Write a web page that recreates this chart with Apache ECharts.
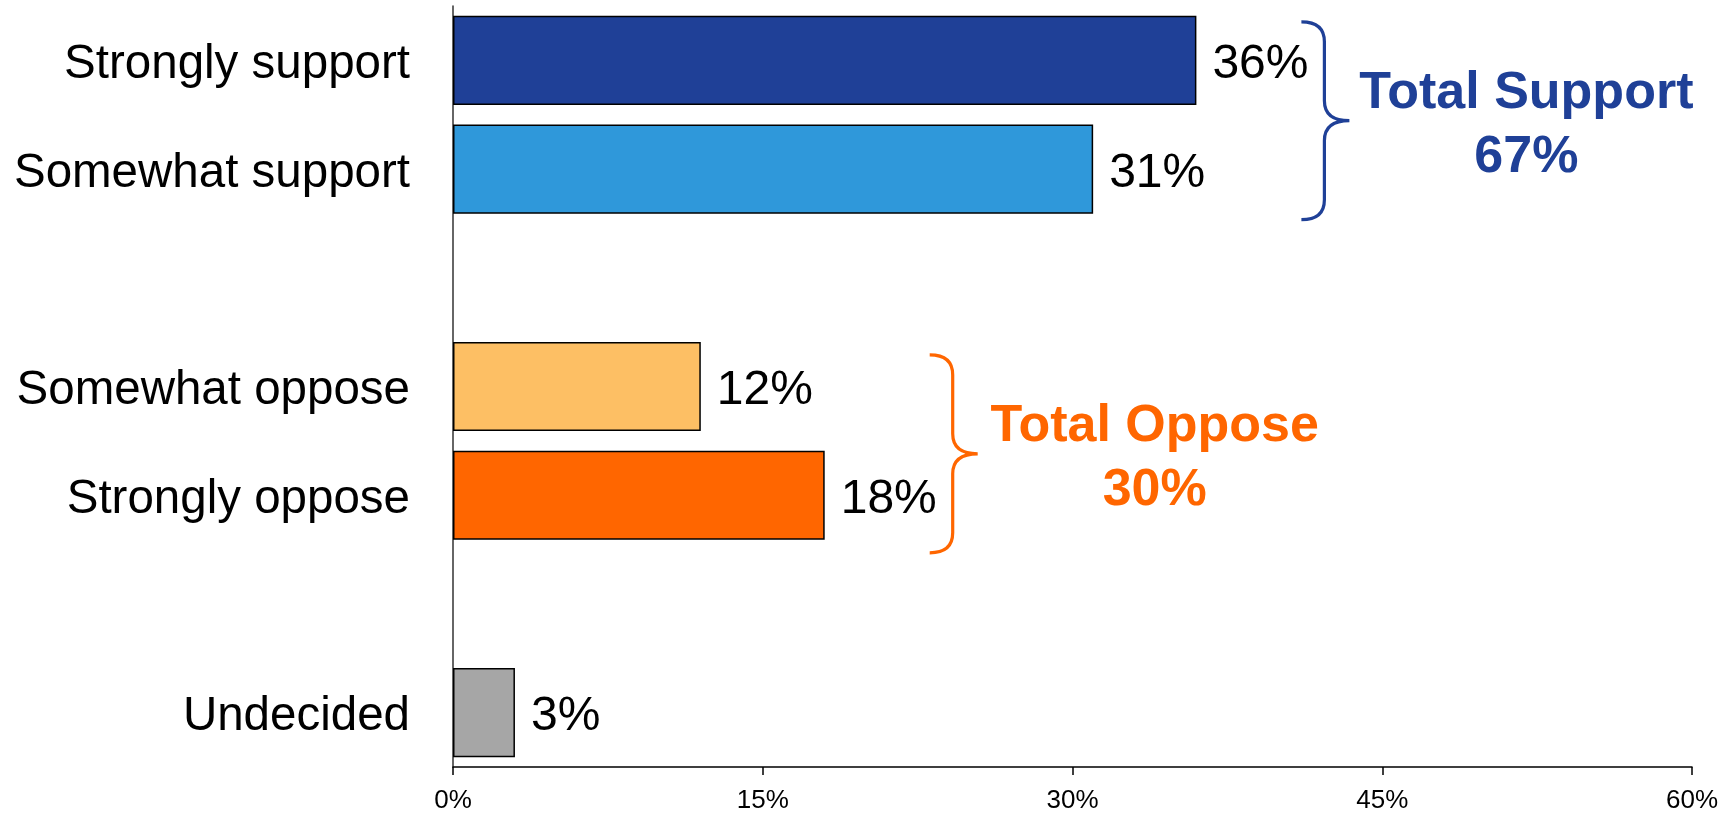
<!DOCTYPE html>
<html>
<head>
<meta charset="utf-8">
<script src="https://cdn.jsdelivr.net/npm/echarts@6/dist/echarts.min.js"></script>
<style>
html,body{margin:0;padding:0;background:#fff;}
#chart{width:1735px;height:814px;}
</style>
</head>
<body>
<div id="chart"></div>
<script>
// ---- data ----
const categories = ['Strongly support', 'Somewhat support', '', 'Somewhat oppose', 'Strongly oppose', ' ', 'Undecided'];
const values = [36, 31, null, 12, 18, null, 3];
const barColors = ['#1F4097', '#2F98DA', '#ffffff', '#FDBF64', '#FF6600', '#ffffff', '#A6A6A6'];
const xTicks = [0, 15, 30, 45, 60];
const groupNames = ['Total Support', 'Total Oppose'];
const groupTotals = [67, 30];
const groupFirst = [0, 3];
const groupLast = [1, 4];
const groupColors = ['#1F4097', '#FF6600'];

const FONT = 'Arial, "Liberation Sans", Helvetica, sans-serif';
const braceShift = [6, 13];

const chart = echarts.init(document.getElementById('chart'), null, {renderer: 'canvas'});

const groupData = groupNames.map((n, i) => {
  let mx = 0;
  for (let k = groupFirst[i]; k <= groupLast[i]; k++) mx = Math.max(mx, values[k] || 0);
  return {name: n, value: [mx, groupFirst[i], groupLast[i], groupTotals[i]]};
});

function renderBrace(params, api) {
  const i = params.dataIndex;
  const color = groupColors[i];
  const band = api.size([0, 1])[1];
  const endPt = api.coord([api.value(0), api.value(1)]);
  const cTop = api.coord([0, api.value(1)])[1];
  const cBot = api.coord([0, api.value(2)])[1];
  const half = band * 0.41;
  const shift = braceShift[i];
  const yT = cTop - half + shift;
  const yB = cBot + half + shift;
  const yM = (yT + yB) / 2;
  const x0 = endPt[0] + 105;
  const x1 = x0 + 23;
  const x2 = x0 + 48;
  const r = 20;
  const d = 'M' + x0 + ' ' + yT +
    ' Q' + x1 + ' ' + yT + ' ' + x1 + ' ' + (yT + r) +
    ' L' + x1 + ' ' + (yM - r) +
    ' Q' + x1 + ' ' + yM + ' ' + x2 + ' ' + yM +
    ' Q' + x1 + ' ' + yM + ' ' + x1 + ' ' + (yM + r) +
    ' L' + x1 + ' ' + (yB - r) +
    ' Q' + x1 + ' ' + yB + ' ' + x0 + ' ' + yB;
  return {
    type: 'group',
    children: [
      {
        type: 'path',
        shape: {pathData: d, x: x0, y: yT, width: x2 - x0, height: yB - yT, layout: 'cover'},
        style: {stroke: color, fill: null, lineWidth: 3.2}
      },
      {
        type: 'text',
        x: x0 + 225,
        y: yM + 4.5,
        style: {
          text: groupNames[i] + '\n' + api.value(3) + '%',
          fill: color,
          fontFamily: FONT,
          fontWeight: 'bold',
          fontSize: 52,
          lineHeight: 64,
          align: 'center',
          verticalAlign: 'middle'
        }
      }
    ]
  };
}

const option = {
  animation: false,
  backgroundColor: '#ffffff',
  grid: {left: 453, right: 43, top: 6, bottom: 46, containLabel: false},
  xAxis: {
    type: 'value',
    min: xTicks[0],
    max: xTicks[xTicks.length - 1],
    interval: 15,
    splitLine: {show: false},
    axisLine: {show: true, lineStyle: {color: '#000', width: 1.5}},
    axisTick: {show: true, length: 8, lineStyle: {color: '#000', width: 1.5}},
    axisLabel: {
      formatter: '{value}%',
      color: '#000',
      fontFamily: FONT,
      fontSize: 26,
      margin: 21
    }
  },
  yAxis: {
    type: 'category',
    inverse: true,
    data: categories,
    axisLine: {show: true, lineStyle: {color: '#333', width: 1.5}},
    axisTick: {show: false},
    splitLine: {show: false},
    axisLabel: {
      color: '#000',
      fontFamily: FONT,
      fontSize: 47.5,
      margin: 43,
      verticalAlign: 'top',
      lineHeight: 9
    }
  },
  series: [
    {
      type: 'bar',
      barCategoryGap: '18%',
      data: values.map((v, i) => ({
        value: v,
        itemStyle: {color: barColors[i], borderColor: '#000', borderWidth: 1.5}
      })),
      label: {
        show: true,
        position: 'right',
        distance: 16,
        offset: [0, 4.5],
        formatter: p => p.value == null ? '' : p.value + '%',
        color: '#000',
        fontFamily: FONT,
        fontSize: 48
      }
    },
    {
      type: 'custom',
      clip: false,
      silent: true,
      renderItem: renderBrace,
      encode: {x: 0, y: 1},
      data: groupData,
      z: 5
    }
  ]
};
chart.setOption(option);
</script>
</body>
</html>
